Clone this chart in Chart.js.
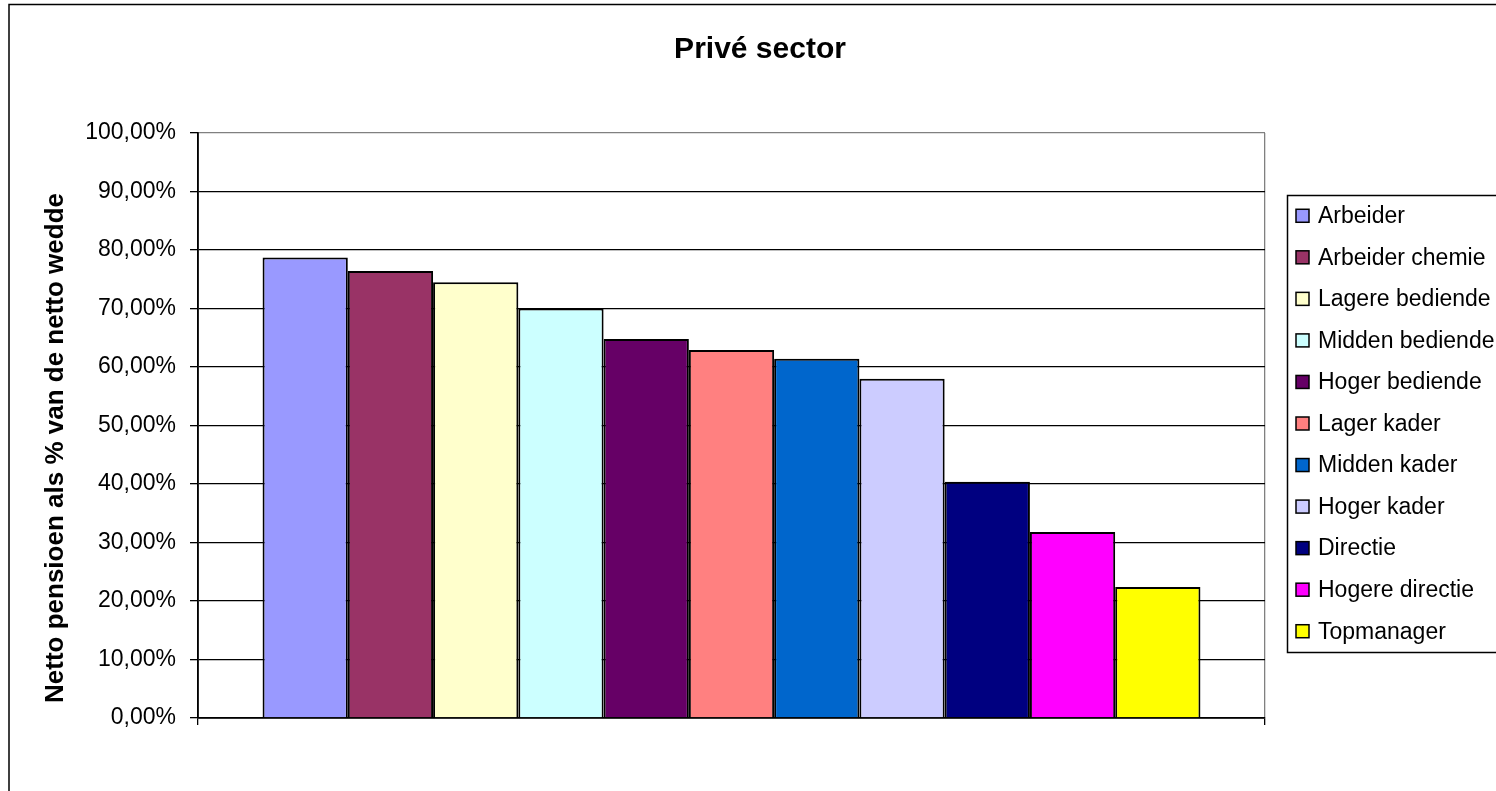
<!DOCTYPE html>
<html lang="nl">
<head>
    <meta charset="UTF-8">
    <title>Privé sector</title>
    <script src="https://cdn.jsdelivr.net/npm/chart.js"></script>
    <style>
        body { margin: 0; background: #fff; }
        canvas { display: block; }
    </style>
</head>
<body>

<canvas id="priveChart" width="1496" height="791"></canvas>

<script>
    const titel = "Privé sector";
    const asTitel = "Netto pensioen als % van de netto wedde";
    const categorieen = [""];
    const functies = ["Arbeider", "Arbeider chemie", "Lagere bediende", "Midden bediende", "Hoger bediende",
                      "Lager kader", "Midden kader", "Hoger kader", "Directie", "Hogere directie", "Topmanager"];
    const percentages = [78.7, 76.4, 74.5, 70.0, 64.8, 62.9, 61.4, 58.0, 40.4, 31.8, 22.4];
    const kleuren = ["#9999FF", "#993366", "#FFFFCC", "#CCFFFF", "#660066",
                     "#FF8080", "#0066CC", "#CCCCFF", "#000080", "#FF00FF", "#FFFF00"];
    const yTicks = [0, 10, 20, 30, 40, 50, 60, 70, 80, 90, 100];

    const lettertype = "'Liberation Sans', Arial, sans-serif";

    // kader, titel, astitel en legende in Excel-stijl
    const kaderPlugin = {
        id: 'kader',
        afterDraw(chart) {
            const ctx = chart.ctx;
            ctx.save();
            ctx.strokeStyle = '#000';
            ctx.lineWidth = 1.5;
            ctx.strokeRect(9, 4.5, 1600, 900);

            ctx.fillStyle = '#000';
            ctx.font = "bold 30px " + lettertype;
            ctx.textAlign = 'center';
            ctx.textBaseline = 'alphabetic';
            ctx.fillText(titel, 760, 58);

            ctx.save();
            ctx.translate(56, 448);
            ctx.rotate(-Math.PI / 2);
            ctx.font = "bold 26px " + lettertype;
            ctx.textBaseline = 'middle';
            ctx.fillText(asTitel, 0, 0);
            ctx.restore();

            // legende
            const lx = 1287, ly = 195, lh = 457;
            const sets = chart.data.datasets;
            const rij = lh / sets.length;
            ctx.fillStyle = '#fff';
            ctx.fillRect(lx, ly, 400, lh);
            ctx.lineWidth = 1.5;
            ctx.strokeRect(lx + 0.5, ly + 0.5, 400, lh);
            ctx.font = "23px " + lettertype;
            ctx.textAlign = 'left';
            ctx.textBaseline = 'middle';
            sets.forEach((ds, i) => {
                const cy = ly + rij * (i + 0.5);
                ctx.fillStyle = ds.backgroundColor;
                ctx.fillRect(1296, cy - 6.5, 13, 13);
                ctx.strokeRect(1296, cy - 6.5, 13, 13);
                ctx.fillStyle = '#000';
                ctx.fillText(ds.label, 1318, cy + 1);
            });
            ctx.restore();
        }
    };

    new Chart(document.getElementById("priveChart"), {
        type: 'bar',
        data: {
            labels: categorieen,
            datasets: functies.map((f, i) => ({
                label: f,
                data: [percentages[i]],
                backgroundColor: kleuren[i],
                borderColor: '#000',
                borderWidth: 2
            }))
        },
        options: {
            responsive: false,
            animation: false,
            events: [],
            categoryPercentage: 0.879,
            barPercentage: 1,
            layout: { padding: { top: 133, right: 231, bottom: 0, left: 0 } },
            plugins: {
                legend: { display: false },
                title: { display: false },
                tooltip: { enabled: false }
            },
            scales: {
                x: {
                    grid: {
                        color: c => c.index === 0 ? '#000' : '#808080',
                        tickColor: '#000',
                        tickLength: 7,
                        lineWidth: 1.3
                    },
                    border: { color: '#000', width: 1.8 },
                    ticks: { display: false },
                    afterFit: s => { s.height = 73; }
                },
                y: {
                    min: 0,
                    max: 100,
                    afterBuildTicks: axis => { axis.ticks = yTicks.map(v => ({ value: v })); },
                    grid: {
                        color: c => c.tick && c.tick.value === 100 ? '#808080' : '#000',
                        tickColor: '#000',
                        tickLength: 8,
                        lineWidth: 1.3
                    },
                    border: { color: '#000', width: 1.8 },
                    ticks: {
                        color: '#000',
                        padding: 14,
                        font: { family: lettertype, size: 23 },
                        callback: v => v.toFixed(2).replace('.', ',') + '%'
                    },
                    afterFit: s => { s.width = 198; }
                }
            }
        },
        plugins: [kaderPlugin]
    });
</script>

</body>
</html>
